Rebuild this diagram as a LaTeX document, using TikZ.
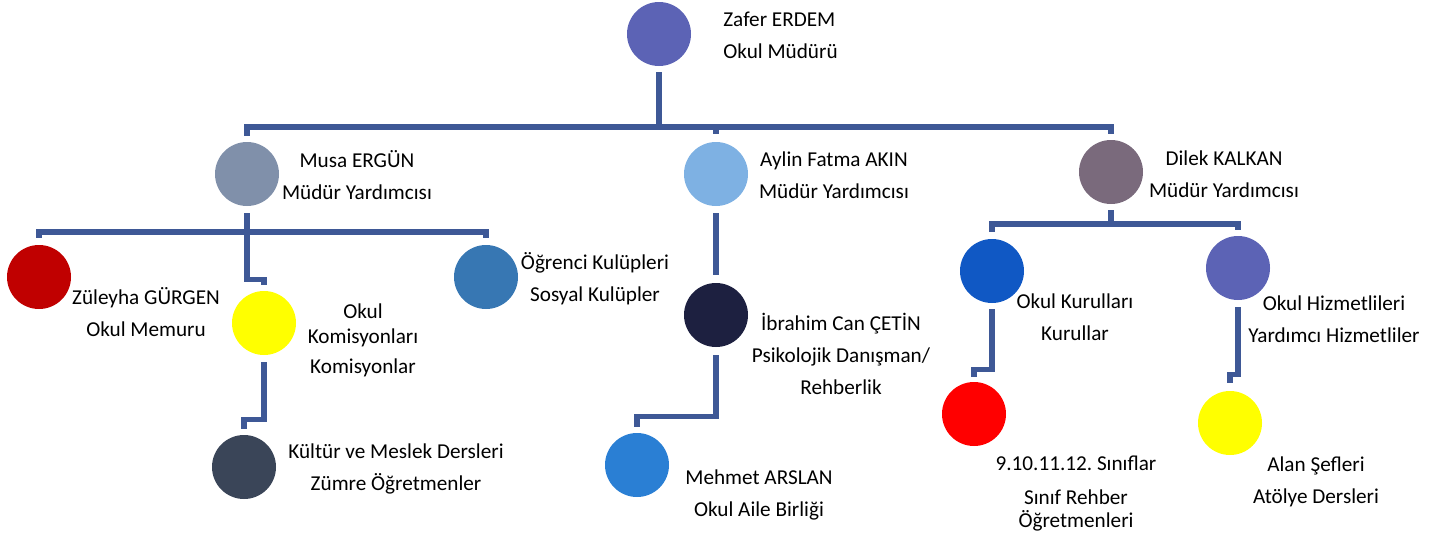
\documentclass[tikz,border=0pt]{standalone}
\usepackage{fontspec}
\setmainfont{Carlito}
\frenchspacing
\definecolor{hatrenk}{RGB}{62,88,150}
\definecolor{mor}{RGB}{92,99,181}
\definecolor{gri}{RGB}{128,144,170}
\definecolor{acikmavi}{RGB}{126,177,227}
\definecolor{leylak}{RGB}{122,106,124}
\definecolor{bordo}{RGB}{192,0,0}
\definecolor{sari}{RGB}{255,255,0}
\definecolor{kulup}{RGB}{55,119,179}
\definecolor{lacivert}{RGB}{29,32,64}
\definecolor{antrasit}{RGB}{58,69,88}
\definecolor{mavi}{RGB}{42,127,212}
\definecolor{koyumavi}{RGB}{16,88,196}
\definecolor{kirmizi}{RGB}{255,0,0}

\begin{document}
\begin{tikzpicture}[x=0.5pt,y=-0.5pt,
  kisi/.style={circle,minimum size=32pt,inner sep=0pt},
  yazi/.style={font=\fontsize{10.6}{16}\selectfont,align=center,inner sep=0pt},
  hat/.style={draw=hatrenk,line width=2.6pt}]
 \useasboundingbox (0,0) rectangle (1441,536);
 % kisiler
 \node[kisi,fill=mor] (zafer) at (659,34) {};
 \node[kisi,fill=gri] (musa) at (247,174) {};
 \node[kisi,fill=acikmavi] (aylin) at (716,174) {};
 \node[kisi,fill=leylak] (dilek) at (1111,172) {};
 \node[kisi,fill=bordo] (zuleyha) at (39,277) {};
 \node[kisi,fill=sari] (komis) at (264,323) {};
 \node[kisi,fill=kulup] (ogrenci) at (486,277) {};
 \node[kisi,fill=lacivert] (ibrahim) at (716,315) {};
 \node[kisi,fill=antrasit] (kultur) at (244,467) {};
 \node[kisi,fill=mavi] (mehmet) at (637,465) {};
 \node[kisi,fill=koyumavi] (kurul) at (992,271) {};
 \node[kisi,fill=mor] (hizmet) at (1238,268) {};
 \node[kisi,fill=kirmizi] (sinif) at (974,414) {};
 \node[kisi,fill=sari] (alan) at (1230,423) {};
 % yazilar
 \node[yazi,align=left,anchor=west] (zaferyazi) at (723,35) {Zafer ERDEM\\Okul Müdürü};
 \node[yazi] (musayazi) at (357,175) {Musa ERGÜN\\Müdür Yardımcısı};
 \node[yazi] (aylinyazi) at (834,175) {Aylin Fatma AKIN\\Müdür Yardımcısı};
 \node[yazi] (dilekyazi) at (1224,174) {Dilek KALKAN\\Müdür Yardımcısı};
 \node[yazi] (zuleyhayazi) at (146,312) {Züleyha GÜRGEN\\Okul Memuru};
 \node[yazi,font=\fontsize{10.6}{12.5}\selectfont] (komisyazi) at (363,340) {Okul\\Komisyonları\\[2.5pt]Komisyonlar};
 \node[yazi] (ogrenciyazi) at (595,279) {Öğrenci Kulüpleri\\Sosyal Kulüpler};
 \node[yazi] (ibrahimyazi) at (841,354) {İbrahim Can ÇETİN\\Psikolojik Danışman/\\Rehberlik};
 \node[yazi] (kulturyazi) at (396,469) {Kültür ve Meslek Dersleri\\Zümre Öğretmenler};
 \node[yazi] (mehmetyazi) at (759,495) {Mehmet ARSLAN\\Okul Aile Birliği};
 \node[yazi] (kurulyazi) at (1075,317) {Okul Kurulları\\Kurullar};
 \node[yazi] (hizmetyazi) at (1334,319) {Okul Hizmetlileri\\Yardımcı Hizmetliler};
 \node[yazi,font=\fontsize{10.6}{11.5}\selectfont] (sinifyazi) at (1076,494) {9.10.11.12. Sınıflar\\[5.5pt]Sınıf Rehber\\Öğretmenleri};
 \node[yazi] (alanyazi) at (1316,482) {Alan Şefleri\\Atölye Dersleri};
 % baglantilar
 \coordinate (bus1) at (659,127);
 \coordinate (bus2) at (247,232);
 \coordinate (bus3) at (1111,224);
 \draw[hat] ([yshift=-3pt]zafer.south) -- (bus1);
 \draw[hat] (bus1) -| ([yshift=3pt]musa.north);
 \draw[hat] (bus1) -| ([yshift=4pt]aylin.north);
 \draw[hat] (bus1) -| ([yshift=3pt]dilek.north);
 \draw[hat] ([yshift=-3.5pt]musa.south) -- (bus2);
 \draw[hat] (bus2) -| ([yshift=3.5pt]zuleyha.north);
 \draw[hat] (bus2) -| ([yshift=3.5pt]ogrenci.north);
 \draw[hat] (bus2) |- ([yshift=5.5pt]komis.north) -- ([yshift=3pt]komis.north);
 \draw[hat] ([yshift=-3.5pt]komis.south) |- ([yshift=7.5pt]kultur.north) -- ([yshift=3pt]kultur.north);
 \draw[hat] ([yshift=-3.5pt]aylin.south) -- ([yshift=4pt]ibrahim.north);
 \draw[hat] ([yshift=-4pt]ibrahim.south) |- ([yshift=8pt]mehmet.north) -- ([yshift=3pt]mehmet.north);
 \draw[hat] ([yshift=-3pt]dilek.south) -- (bus3);
 \draw[hat] (bus3) -| ([yshift=3.5pt]kurul.north);
 \draw[hat] (bus3) -| ([yshift=3pt]hizmet.north);
 \draw[hat] ([yshift=-3pt]kurul.south) |- ([yshift=6pt]sinif.north) -- ([yshift=2.5pt]sinif.north);
 \draw[hat] ([yshift=-3.5pt]hizmet.south) |- ([yshift=8pt]alan.north) -- ([yshift=4pt]alan.north);
\end{tikzpicture}
\end{document}
